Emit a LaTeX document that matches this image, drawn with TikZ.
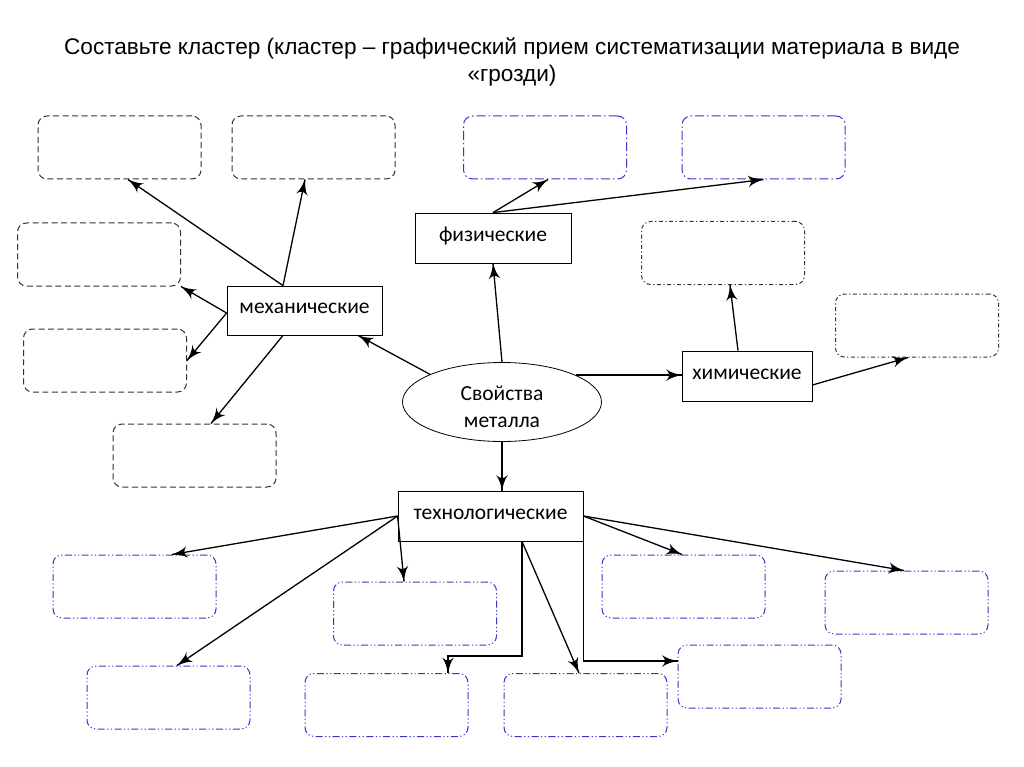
\documentclass[tikz,border=0pt]{standalone}
\usepackage{fontspec}
\setmainfont{Liberation Sans}
\newfontfamily\calib{Carlito}
\usepackage{tikz}
\usetikzlibrary{arrows}
\usetikzlibrary{decorations.markings}
\usetikzlibrary{positioning}
\usetikzlibrary{shapes.geometric}
\tikzset{->/.style = {decoration={markings,
                                  mark=at position 1 with {\arrow[scale=2.3]{latex'}}},
                      postaction={decorate}}}
\tikzset{cbox/.style = {rectangle, rounded corners = 9pt, line width = 1pt,
                        minimum width = 163, minimum height = 63, inner sep = 0}}
\tikzset{mech/.style = {cbox, draw = black!80, dash pattern = on 6pt off 3.5pt}}
\tikzset{phys/.style = {cbox, draw = mblue, dash pattern = on 9pt off 3pt on 1.5pt off 3pt}}
\tikzset{chem/.style = {cbox, draw = black!80, dash pattern = on 4pt off 2.5pt on 1.2pt off 2.5pt}}
\tikzset{tech/.style = {cbox, draw = mblue,
                        dash pattern = on 7pt off 2.5pt on 1.2pt off 2.5pt on 1.2pt off 2.5pt}}
\tikzset{solid/.style = {draw, rectangle, line width = 0.8pt, inner sep = 0,
                         text height = 13pt, text depth = 7pt,
                         font = \calib\fontsize{21.5}{27}\selectfont}}
\tikzset{link/.style = {line width = 1.3pt}}
\definecolor{mblue}{rgb}{0.22, 0.22, 0.78}

\begin{document}
\begin{tikzpicture}[x = 1pt, y = -1pt]
    \useasboundingbox [fill = white] (0, 0) rectangle (1024, 767);

    \node [align = center, font = \fontsize{22.6}{27}\selectfont] (title) at (512, 62)
        {Составьте кластер (кластер -- графический прием систематизации материала в виде\\«грозди)};

    \node [solid, minimum width = 155, minimum height = 49] (mechan) at (304.5, 310.5) {механические};
    \node [solid, minimum width = 156, minimum height = 50] (phys) at (493, 238) {физические};
    \node [solid, minimum width = 130, minimum height = 50] (chemic) at (747, 376) {химические};
    \node [solid, minimum width = 185, minimum height = 50] (techno) at (490.5, 516) {технологические};
    \node [ellipse, draw, line width = 0.8pt, minimum width = 199, minimum height = 79, inner sep = 0,
           align = center, text height = 50pt, text depth = 0pt,
           font = \calib\fontsize{21.5}{27}\selectfont] (metal) at (502, 402) {Свойства\\металла};

    \node [mech] (m1) at (119.5, 147.5) {};
    \node [mech] (m2) at (313.5, 147.5) {};
    \node [mech] (m3) at (99, 254.5) {};
    \node [mech] (m4) at (105, 360.5) {};
    \node [mech] (m5) at (194.5, 455.5) {};

    \node [phys] (p1) at (545, 147.5) {};
    \node [phys] (p2) at (763.5, 147.5) {};

    \node [chem] (c1) at (723, 253) {};
    \node [chem] (c2) at (917, 325.5) {};

    \node [tech] (t1) at (134.5, 586.5) {};
    \node [tech] (t2) at (168.5, 697.5) {};
    \node [tech] (t3) at (415, 613.5) {};
    \node [tech] (t4) at (386.5, 705) {};
    \node [tech] (t5) at (585.5, 705) {};
    \node [tech] (t6) at (759.5, 676.5) {};
    \node [tech] (t7) at (906.5, 602.5) {};
    \node [tech] (t8) at (683.5, 586.5) {};

    \draw [link, ->] (metal.159) -- ([xshift = 53.5pt]mechan.south);
    \draw [link, ->] (metal.north) -- (phys.south);
    \draw [link, ->] (metal.20) -- (metal.20 -| chemic.west);
    \draw [link, ->] (metal.south) -- (metal.south |- techno.north);

    \draw [link, ->] ([xshift = -21.5pt]mechan.north) -- ([xshift = 8.5pt]m1.south);
    \draw [link, ->] ([xshift = -21.5pt]mechan.north) -- ([xshift = -8.5pt]m2.south);
    \draw [link, ->] ([yshift = -2.5pt]mechan.west) -- (m3.south east);
    \draw [link, ->] ([yshift = -2.5pt]mechan.west) -- (m4.east);
    \draw [link, ->] ([xshift = -21.5pt]mechan.south) -- ([xshift = 16.5pt]m5.north);

    \draw [link, ->] (phys.north) -- ([xshift = 3pt]p1.south);
    \draw [link, ->] (phys.north) -- (p2.south);

    \draw [link, ->] ([xshift = -9pt]chemic.north) -- ([xshift = 7pt]c1.south);
    \draw [link, ->] ([yshift = -9pt]chemic.east) -- ([xshift = -9pt]c2.south);

    \draw [link, ->] (techno.west) -- ([xshift = 37.5pt]t1.north);
    \draw [link, ->] (techno.west) -- ([xshift = 8.5pt]t2.north);
    \draw [link, ->] (techno.west) -- ([xshift = -11pt]t3.north);
    \draw [link, ->] ([xshift = 31.5pt]techno.south) |- ([xshift = 61.5pt, yshift = 17pt]t4.north)
        -- ([xshift = 61.5pt]t4.north);
    \draw [link, ->] ([xshift = 31.5pt]techno.south) -- ([xshift = -6.5pt]t5.north);
    \draw [link, ->] (techno.south east) |- ([yshift = 15.5pt]t6.west);
    \draw [link, ->] (techno.east) -- ([xshift = -1.5pt]t8.north);
    \draw [link, ->] (techno.east) -- ([xshift = -2.5pt]t7.north);

  \end{tikzpicture}
\end{document}
